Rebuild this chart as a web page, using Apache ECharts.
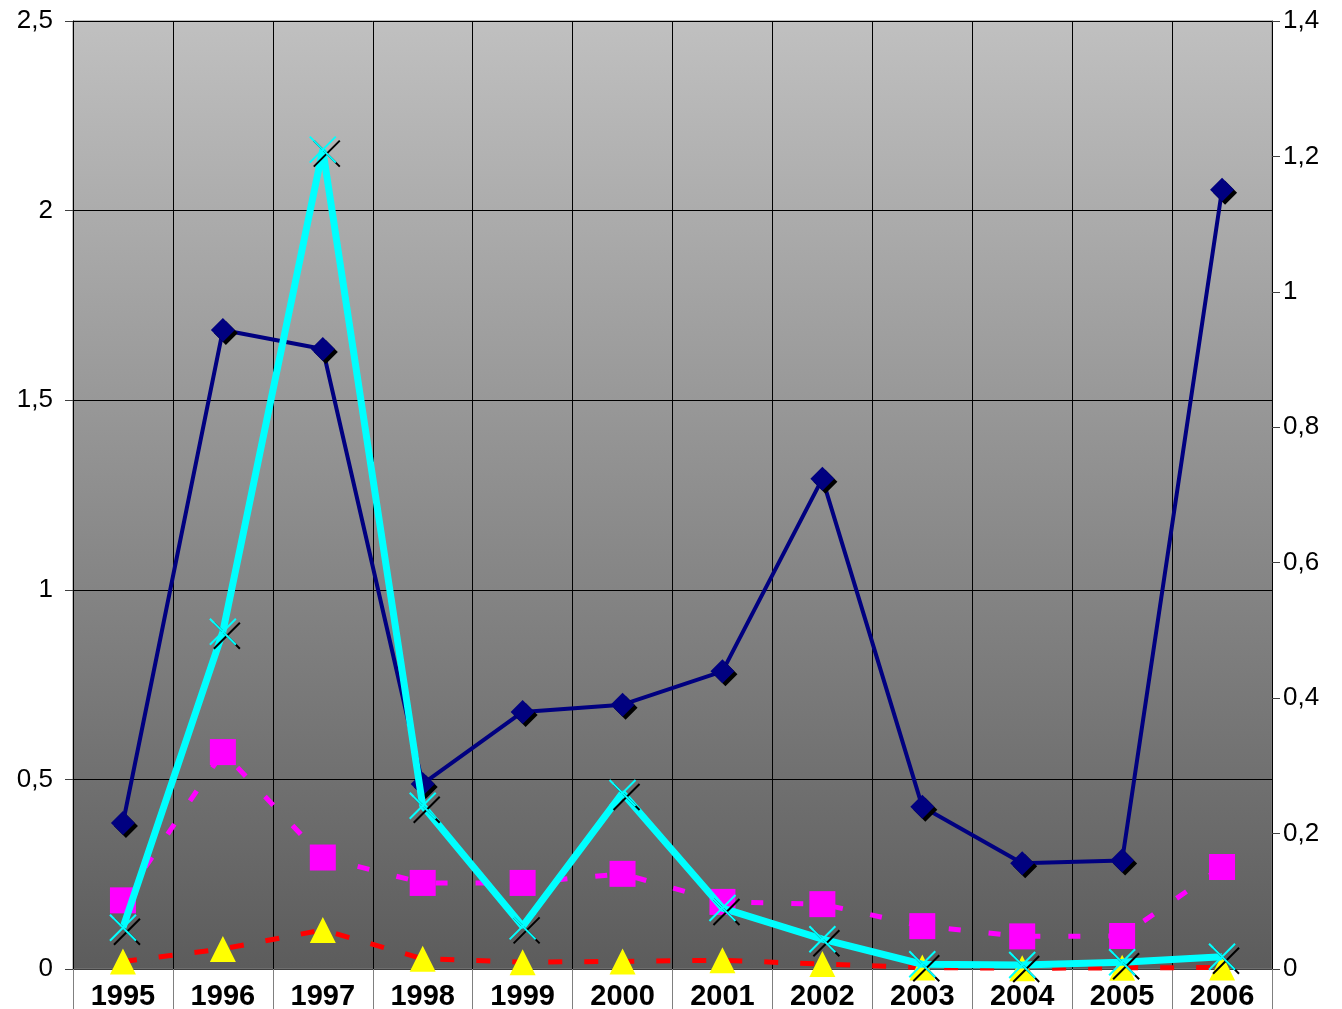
<!DOCTYPE html>
<html>
<head>
<meta charset="utf-8">
<script src="https://cdn.jsdelivr.net/npm/echarts@6/dist/echarts.min.js"></script>
<style>
  html, body { margin: 0; padding: 0; background: #fff; }
  #main { width: 1342px; height: 1009px; }
</style>
</head>
<body>
<div id="main"></div>
<script>
const years = ["1995", "1996", "1997", "1998", "1999", "2000", "2001", "2002", "2003", "2004", "2005", "2006"];
// left axis series
const navy = [0.385, 1.685, 1.635, 0.488, 0.678, 0.697, 0.785, 1.293, 0.428, 0.279, 0.286, 2.055];
const magenta = [0.181, 0.572, 0.294, 0.227, 0.227, 0.251, 0.177, 0.171, 0.113, 0.086, 0.087, 0.269];
const red = [0.02, 0.053, 0.103, 0.027, 0.018, 0.02, 0.023, 0.013, 0.004, 0.002, 0.003, 0.004];
// right axis series
const cyan = [0.061, 0.498, 1.21, 0.241, 0.063, 0.26, 0.09, 0.044, 0.007, 0.006, 0.01, 0.018];

const fmt = (v) => String(v).replace(".", ",");

const chart = echarts.init(document.getElementById("main"));

const option = {
  animation: false,
  grid: {
    left: 73,
    right: 70,
    top: 21,
    bottom: 40,
    outerBoundsMode: "none",
    show: true,
    borderWidth: 1,
    borderColor: "#808080",
    backgroundColor: new echarts.graphic.LinearGradient(0, 0, 0, 1, [
      { offset: 0, color: "#c0c0c0" },
      { offset: 1, color: "#5c5c5c" },
    ]),
  },
  xAxis: {
    type: "category",
    data: years,
    boundaryGap: true,
    axisLine: { lineStyle: { color: "#404040", width: 1 } },
    axisTick: { show: true, length: 40, lineStyle: { color: "#808080" } },
    axisLabel: {
      color: "#000",
      fontFamily: "Liberation Sans, Arial",
      fontWeight: "bold",
      fontSize: 29,
      margin: 13,
    },
    splitLine: { show: true, lineStyle: { color: "#000", width: 1 } },
  },
  yAxis: [
    {
      type: "value",
      min: 0,
      max: 2.5,
      interval: 0.5,
      axisLine: { show: true, lineStyle: { color: "#000" } },
      axisTick: { show: true, length: 8, lineStyle: { color: "#404040" } },
      axisLabel: {
        color: "#000",
        fontFamily: "Liberation Sans, Arial",
        fontSize: 26,
        margin: 20,
        formatter: fmt,
      },
      splitLine: { show: true, lineStyle: { color: "#000", width: 1 } },
    },
    {
      type: "value",
      min: 0,
      max: 1.4,
      interval: 0.2,
      position: "right",
      axisLine: { show: true, lineStyle: { color: "#000" } },
      axisTick: { show: true, length: 8, lineStyle: { color: "#404040" } },
      axisLabel: {
        color: "#000",
        fontFamily: "Liberation Sans, Arial",
        fontSize: 26,
        margin: 11,
        formatter: fmt,
      },
      splitLine: { show: false },
    },
  ],
  series: [
    {
      name: "navy",
      type: "line",
      data: navy,
      yAxisIndex: 0,
      symbol: "diamond",
      symbolSize: 24,
      lineStyle: { color: "#000080", width: 4 },
      itemStyle: {
        color: "#000080",
        shadowColor: "#000",
        shadowOffsetX: 3,
        shadowOffsetY: 3,
        shadowBlur: 0,
      },
      z: 3,
    },
    {
      name: "magenta",
      type: "line",
      data: magenta,
      yAxisIndex: 0,
      symbol: "rect",
      symbolSize: 26,
      lineStyle: { color: "#ff00ff", width: 5, type: [12, 28] },
      itemStyle: { color: "#ff00ff" },
      z: 2,
    },
    {
      name: "red",
      type: "line",
      data: red,
      yAxisIndex: 0,
      symbol: "triangle",
      symbolSize: [26, 26],
      lineStyle: { color: "#ff0000", width: 5, type: [14, 22] },
      itemStyle: { color: "#ffff00" },
      z: 2,
    },
    {
      name: "cyan",
      type: "line",
      data: cyan,
      yAxisIndex: 1,
      symbol: "path://M0,0L10,10M10,0L0,10",
      symbolSize: 26,
      lineStyle: { color: "#00ffff", width: 7 },
      itemStyle: {
        color: "none",
        borderColor: "#00ffff",
        borderWidth: 2,
        shadowColor: "#000",
        shadowOffsetX: 4,
        shadowOffsetY: 4,
        shadowBlur: 0,
      },
      z: 4,
    },
  ],
};

chart.setOption(option);
</script>
</body>
</html>
